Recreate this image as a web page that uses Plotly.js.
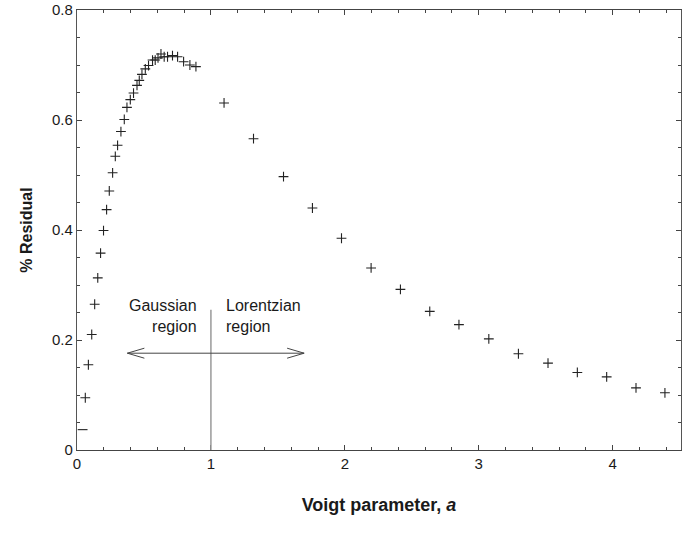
<!DOCTYPE html>
<html>
<head>
<meta charset="utf-8">
<script src="https://cdn.plot.ly/plotly-3.0.1.min.js"></script>
<style>html,body{margin:0;padding:0;background:#fff}#chart{width:691px;height:535px}</style>
</head>
<body>
<div id="chart"></div>
<script>
// Voigt parameter a (x) and % residual (y)
const voigtA = [0.042, 0.062, 0.085, 0.11, 0.132, 0.155, 0.176, 0.198, 0.221, 0.241,
  0.266, 0.286, 0.303, 0.328, 0.353, 0.373, 0.398, 0.422, 0.448, 0.465,
  0.485, 0.51, 0.534, 0.564, 0.584, 0.605, 0.627, 0.651, 0.676, 0.713,
  0.751, 0.796, 0.843, 0.888, 1.098, 1.318, 1.542, 1.758, 1.975, 2.196,
  2.415, 2.634, 2.852, 3.075, 3.296, 3.517, 3.736, 3.955, 4.174, 4.39];
const residualPct = [0.037, 0.095, 0.155, 0.21, 0.265, 0.313, 0.358, 0.399, 0.437, 0.471,
  0.504, 0.534, 0.554, 0.579, 0.601, 0.623, 0.637, 0.649, 0.663, 0.672,
  0.683, 0.693, 0.699, 0.709, 0.709, 0.713, 0.720, 0.715, 0.715, 0.717,
  0.715, 0.706, 0.700, 0.697, 0.631, 0.566, 0.497, 0.440, 0.385, 0.331,
  0.292, 0.252, 0.228, 0.202, 0.175, 0.158, 0.141, 0.133, 0.113, 0.104];

const xTickVals = [0, 1, 2, 3, 4];
const yTickVals = [0, 0.2, 0.4, 0.6, 0.8];
const regionLabels = ["Gaussian<br>region", "Lorentzian<br>region"];
const boundaryA = 1;          // Gaussian / Lorentzian boundary
const boundaryTop = 0.255;    // top of boundary line
const arrowY = 0.176;         // height of the double arrow
const arrowLeft = 0.376, arrowRight = 1.696;
const labelY = 0.282;

const symbols = voigtA.map((_, i) => i === 0 ? 'line-ew' : 'cross-thin');

const trace = {
  x: voigtA, y: residualPct, type: 'scatter', mode: 'markers',
  marker: {symbol: symbols, size: 7, color: '#222', line: {color: '#222', width: 1.1}},
  hoverinfo: 'x+y', showlegend: false
};

const font = {family: 'Liberation Sans, Arial, sans-serif', color: '#1a1a1a'};

const layout = {
  width: 691, height: 535,
  margin: {l: 77, r: 10, t: 10, b: 85},
  paper_bgcolor: '#fff', plot_bgcolor: '#fff',
  font: Object.assign({size: 15}, font),
  xaxis: {
    range: [0, 4.51], tickvals: xTickVals, ticktext: xTickVals.map(String),
    ticks: 'inside', ticklen: 5, tickcolor: '#444', tickwidth: 1,
    minor: {dtick: 0.2, ticks: 'inside', ticklen: 3, tickcolor: '#444'},
    showline: true, linecolor: '#444', linewidth: 1.2, mirror: 'allticks',
    showgrid: false, zeroline: false,
    tickfont: Object.assign({size: 15}, font),
    title: {text: '<b>Voigt parameter, <i>a</i></b>', font: Object.assign({size: 18}, font), standoff: 27}
  },
  yaxis: {
    range: [0, 0.8], tickvals: yTickVals, ticktext: ['0', '0.2', '0.4', '0.6', '0.8'],
    ticks: 'inside', ticklen: 5, tickcolor: '#444', tickwidth: 1,
    minor: {dtick: 0.05, ticks: 'inside', ticklen: 3, tickcolor: '#444'},
    showline: true, linecolor: '#555', linewidth: 1.2, mirror: 'allticks',
    showgrid: false, zeroline: false,
    tickfont: Object.assign({size: 15}, font),
    title: {text: '<b>% Residual</b>', font: Object.assign({size: 16}, font), standoff: 15}
  },
  shapes: [
    {type: 'line', xref: 'x', yref: 'y', x0: boundaryA, x1: boundaryA, y0: 0, y1: boundaryTop,
     line: {color: '#999', width: 1.5}},
    {type: 'line', xref: 'x', yref: 'y', x0: arrowLeft, x1: arrowRight, y0: arrowY, y1: arrowY,
     line: {color: '#444', width: 1}},
    {type: 'path', xref: 'x', yref: 'y', xsizemode: 'pixel', ysizemode: 'pixel',
     xanchor: arrowLeft, yanchor: arrowY, path: 'M17,5L0,0L17,-5',
     line: {color: '#444', width: 1}},
    {type: 'path', xref: 'x', yref: 'y', xsizemode: 'pixel', ysizemode: 'pixel',
     xanchor: arrowRight, yanchor: arrowY, path: 'M-17,5L0,0L-17,-5',
     line: {color: '#444', width: 1}}
  ],
  annotations: [
    {x: 0.913, y: labelY, xref: 'x', yref: 'y', text: regionLabels[0], showarrow: false,
     xanchor: 'right', yanchor: 'top', align: 'right', font: Object.assign({size: 16}, font)},
    {x: 1.099, y: labelY, xref: 'x', yref: 'y', text: regionLabels[1], showarrow: false,
     xanchor: 'left', yanchor: 'top', align: 'left', font: Object.assign({size: 16}, font)}
  ]
};

Plotly.newPlot('chart', [trace], layout, {displayModeBar: false, staticPlot: true});
</script>
</body>
</html>
